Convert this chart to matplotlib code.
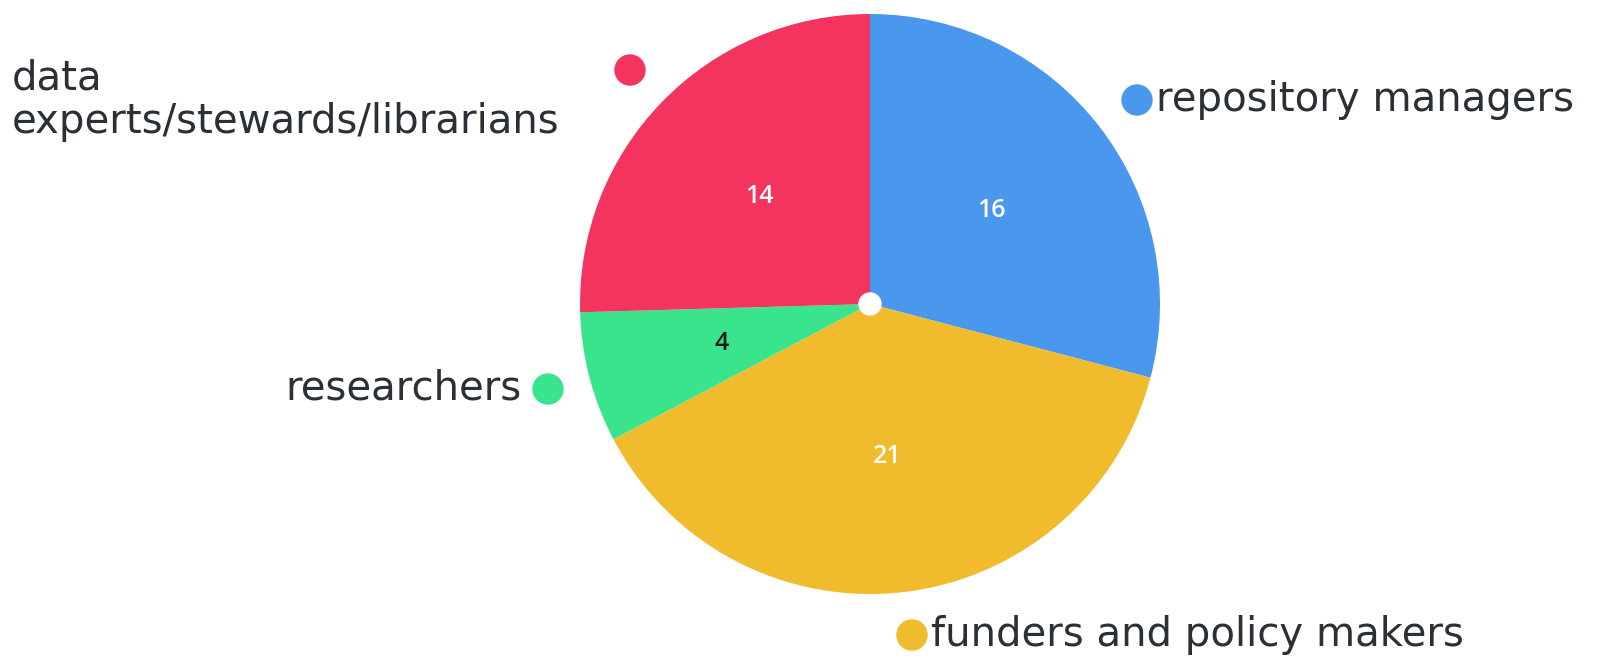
import matplotlib.pyplot as plt
from matplotlib.patches import Circle

labels = ["repository managers", "funders and policy makers", "researchers",
          "data\nexperts/stewards/librarians"]
counts = [16, 21, 4, 14]
colors = ["#4a98ee", "#f0bc2d", "#3ae48c", "#f2345f"]
num_colors = ["white", "white", "#1b1b1b", "white"]

W, H = 1606, 658
FONT = "DejaVu Sans"
fig = plt.figure(figsize=(W / 100, H / 100), dpi=100)
fig.patch.set_facecolor("white")
ax = fig.add_axes([0, 0, 1, 1])

cx, cy, r = 870, H - 304, 290
total = sum(counts)
wedges, _, nums = ax.pie(counts, colors=colors, startangle=90, counterclock=False,
                         center=(cx, cy), radius=r, frame=True,
                         autopct=lambda p: f"{round(p * total / 100)}",
                         pctdistance=0.53,
                         wedgeprops=dict(linewidth=0))
ax.set_xlim(0, W)
ax.set_ylim(0, H)
ax.set_aspect("equal")
ax.axis("off")
for t, c in zip(nums, num_colors):
    t.set_color(c)
    t.set_fontsize(18)
    t.set_fontfamily("Open Sans")
    t.set_fontweight("semibold")

ax.add_patch(Circle((cx, cy), 11, color="white", zorder=5))

txt = "#2b2f36"
fs = 29
# repository managers
ax.add_patch(Circle((1137, H - 100), 15, color=colors[0]))
ax.text(1156, H - 100, labels[0], fontsize=fs, family=FONT, color=txt, va="center", ha="left")
# funders
ax.add_patch(Circle((912, H - 635), 15, color=colors[1]))
ax.text(931, H - 635, labels[1], fontsize=fs, family=FONT, color=txt, va="center", ha="left")
# researchers
ax.add_patch(Circle((548, H - 389), 15, color=colors[2]))
ax.text(522, H - 389, labels[2], fontsize=fs, family=FONT, color=txt, va="center", ha="right")
# data experts
ax.add_patch(Circle((630, H - 70), 15, color=colors[3]))
ax.text(12, H - 133, labels[3], fontsize=fs, family=FONT, color=txt, va="baseline", ha="left",
        linespacing=1.1)

fig.savefig("out.png", dpi=100, facecolor="white")
